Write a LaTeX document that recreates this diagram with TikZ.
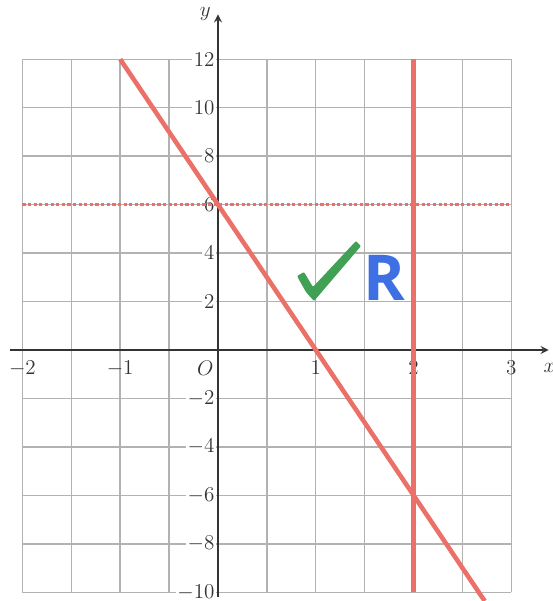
\documentclass[tikz,border=0pt]{standalone}
\usepackage{fontspec}
\usepackage{tikz}
\usetikzlibrary{arrows}
\newfontfamily\handfont{Open Sans}
\definecolor{linered}{RGB}{234,112,104}
\definecolor{tickgreen}{RGB}{64,160,84}
\definecolor{markblue}{RGB}{62,112,228}

\begin{document}
\begin{tikzpicture}[
    x=1.956cm, y=0.4846cm,
    gridline/.style={draw=black!30, line width=0.8pt},
    axis/.style={-stealth, draw=black!80, line width=1pt},
    tick/.style={font=\fontsize{12}{14}\selectfont, text=black!80, inner sep=1pt},
    graph/.style={draw=linered, line width=2.6pt},
    dotline/.style={draw=linered, line width=1.8pt, dash pattern=on 1.8pt off 1.4pt}
]
    \useasboundingbox (-2.229,-10.359) rectangle (3.425,14.445);

    % Grid and axes
    \draw[gridline] (-2,-10) grid [xstep=0.5, ystep=2] (3,12);
    \draw[axis] (-2.13,0) -- (3.38,0);
    \draw[axis] (0,-10.2) -- (0,13.85);
    \node[tick] (ylab) at (-0.13,13.87) {$y$};
    \node[tick] (xlab) at (3.39,-0.74) {$x$};

    % Tick labels
    \foreach \v in {12,10,8,6,4,2,-2,-4,-6,-8,-10}
        \node[tick, fill=white, anchor=east] (yt\v) at (-0.015,\v) {$\v$};
    \foreach \u in {-2,-1,1,2,3}
        \node[tick, anchor=north] (xt\u) at (\u,-0.35) {$\u$};
    \node[tick, anchor=north] (orig) at (-0.13,-0.35) {$O$};

    % Lines
    \draw[dotline] (-2,6) -- (3,6);
    \draw[graph] (2,12) -- (2,-10);
    \draw[graph] (-1,12) -- (2.727,-10.359);

    % Marking
    \fill[tickgreen, rounded corners=0.6pt] (0.808,3.05) -- (0.879,3.22) -- (0.971,2.60)
        -- (1.411,4.50) -- (1.462,4.29) -- (0.982,2.02) -- (0.900,2.39) -- cycle;
    \node[font=\handfont\bfseries\fontsize{36}{40}\selectfont, text=markblue, inner sep=0pt] (mark) at (1.697,2.97) {R};
\end{tikzpicture}
\end{document}
